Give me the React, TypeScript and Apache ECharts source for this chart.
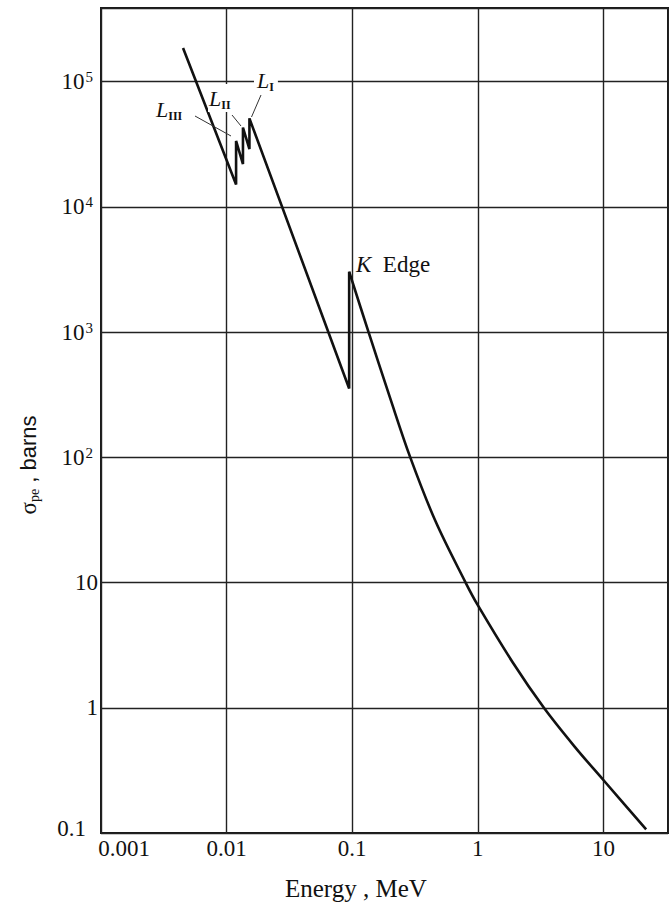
import React, { useEffect, useRef } from 'react';
import * as echarts from 'echarts';

// Photoelectric cross-section (lead)
// Low-energy part with the L edges and the K edge (straight segments)
const energyLow = [0.0045, 0.0119, 0.0119, 0.0135, 0.0135, 0.0152, 0.0152, 0.0946, 0.0946];
const sigmaLow = [186000, 15100, 33700, 22000, 43000, 29000, 51000, 355, 3040];
// Above the K edge (smooth curve)
const energyHigh = [0.0946, 0.135, 0.2, 0.29, 0.46, 0.8, 1.0, 1.9, 3.36, 5.9, 10, 21.9];
const sigmaHigh = [3040, 1000, 300, 100, 31, 10, 6.6, 2.3, 1, 0.49, 0.265, 0.107];

const xTickExps = [-3, -2, -1, 0, 1];
const xTickLabels = ['{first|0.001}', '0.01', '0.1', '1', '10'];
const yTickExps = [-1, 0, 1, 2, 3, 4, 5];
const yTickLabels = ['{lo|0.1}', '1', '10', '{b|10}{sup|2}', '{b|10}{sup|3}', '{b|10}{sup|4}', '{b|10}{sup|5}'];

const xMin = 0.001;
const xMax = 32.7;
const yMin = 0.1;
const yMax = 388000;

const serif = "'Liberation Serif', 'Times New Roman', serif";
const ink = '#111';

function labelFor(v: number, exps: number[], labels: string[]) {
  const l = Math.log10(v);
  const e = Math.round(l);
  if (Math.abs(l - e) > 1e-6) return '';
  const i = exps.indexOf(e);
  return i < 0 ? '' : labels[i];
}

export default function App() {
  const ref = useRef<HTMLDivElement>(null);
  useEffect(() => {
    const el = ref.current;
    if (!el) return;
    const chart = echarts.init(el, null, { renderer: 'svg' });
    const low = energyLow.map((e, i) => [e, sigmaLow[i]]);
    const high = energyHigh.map((e, i) => [e, sigmaHigh[i]]);
    const labelTxt = { fontFamily: serif, fill: ink };
    chart.setOption({
      animation: false,
      backgroundColor: '#fff',
      grid: {
        show: true,
        left: 101,
        right: 1,
        top: 8,
        bottom: 73,
        borderColor: '#1a1a1a',
        borderWidth: 2,
        backgroundColor: 'transparent',
      },
      xAxis: {
        type: 'log',
        logBase: 10,
        min: xMin,
        max: xMax,
        splitNumber: 5,
        axisLine: { show: false },
        axisTick: { show: false },
        minorTick: { show: false },
        splitLine: { show: true, lineStyle: { color: '#222', width: 1.4 } },
        axisLabel: {
          formatter: (v: number) => labelFor(v, xTickExps, xTickLabels),
          fontFamily: serif,
          fontSize: 23,
          lineHeight: 22,
          color: ink,
          margin: 4,
          showMaxLabel: false,
          rich: {
            first: { fontFamily: serif, fontSize: 23, lineHeight: 22, color: ink, padding: [0, 0, 0, 46] },
          },
        },
      },
      yAxis: {
        type: 'log',
        logBase: 10,
        min: yMin,
        max: yMax,
        splitNumber: 5,
        axisLine: { show: false },
        axisTick: { show: false },
        minorTick: { show: false },
        splitLine: { show: true, lineStyle: { color: '#222', width: 1.4 } },
        axisLabel: {
          formatter: (v: number) => labelFor(v, yTickExps, yTickLabels),
          fontFamily: serif,
          fontSize: 23,
          lineHeight: 24,
          color: ink,
          margin: 3,
          showMaxLabel: false,
          rich: {
            lo: { fontFamily: serif, fontSize: 23, lineHeight: 24, color: ink, padding: [0, 12, 10, 0] },
            b: { fontFamily: serif, fontSize: 23, lineHeight: 24, color: ink },
            sup: { fontFamily: serif, fontSize: 15, lineHeight: 14, verticalAlign: 'top', color: ink, padding: [0, 5, 0, 1] },
          },
        },
      },
      series: [
        {
          type: 'line',
          data: low,
          symbol: 'none',
          lineStyle: { color: ink, width: 2.6 },
          silent: true,
        },
        {
          type: 'line',
          data: high,
          symbol: 'none',
          smooth: 0.35,
          lineStyle: { color: ink, width: 2.6 },
          silent: true,
        },
      ],
      graphic: [
        { type: 'line', z: 10, shape: { x1: 195, y1: 116, x2: 231, y2: 136 }, style: { stroke: '#333', lineWidth: 1 } },
        { type: 'line', z: 10, shape: { x1: 232, y1: 115, x2: 241, y2: 126 }, style: { stroke: '#333', lineWidth: 1 } },
        { type: 'line', z: 10, shape: { x1: 261, y1: 95, x2: 251.5, y2: 117 }, style: { stroke: '#333', lineWidth: 1 } },
        {
          type: 'text', z: 10, x: 155, y: 109,
          style: {
            text: '{L|L}{s|III}', align: 'left', verticalAlign: 'middle', backgroundColor: '#fff', padding: [1, 3, 1, 1],
            rich: {
              L: { ...labelTxt, fontStyle: 'italic', fontSize: 22, lineHeight: 26 },
              s: { ...labelTxt, fontSize: 12, fontWeight: 'bold', lineHeight: 10, verticalAlign: 'bottom' },
            },
          },
        },
        {
          type: 'text', z: 10, x: 208, y: 98,
          style: {
            text: '{L|L}{s|II}', align: 'left', verticalAlign: 'middle', backgroundColor: '#fff', padding: [1, 3, 1, 1],
            rich: {
              L: { ...labelTxt, fontStyle: 'italic', fontSize: 22, lineHeight: 26 },
              s: { ...labelTxt, fontSize: 12, fontWeight: 'bold', lineHeight: 10, verticalAlign: 'bottom' },
            },
          },
        },
        {
          type: 'text', z: 10, x: 254, y: 80,
          style: {
            text: '{L|L}{s|I}', align: 'left', verticalAlign: 'middle', backgroundColor: '#fff', padding: [1, 4, 1, 3],
            rich: {
              L: { ...labelTxt, fontStyle: 'italic', fontSize: 22, lineHeight: 26 },
              s: { ...labelTxt, fontSize: 12, fontWeight: 'bold', lineHeight: 10, verticalAlign: 'bottom' },
            },
          },
        },
        {
          type: 'text', z: 10, x: 354, y: 264,
          style: {
            text: '{k|K}{e|  Edge}', align: 'left', verticalAlign: 'middle', backgroundColor: '#fff', padding: [1, 2],
            rich: {
              k: { ...labelTxt, fontStyle: 'italic', fontSize: 23, lineHeight: 26 },
              e: { ...labelTxt, fontSize: 23, lineHeight: 26 },
            },
          },
        },
        {
          type: 'text', z: 10, x: 285, y: 888,
          style: { text: 'Energy , MeV', fontFamily: serif, fontSize: 25, fill: ink, align: 'left', verticalAlign: 'middle' },
        },
        {
          type: 'text', z: 10, x: 28, y: 465, rotation: Math.PI / 2,
          style: {
            text: '{s|σ}{p|pe}{n| , barns}', align: 'center', verticalAlign: 'middle',
            rich: {
              s: { ...labelTxt, fontSize: 23, lineHeight: 26 },
              p: { ...labelTxt, fontSize: 14, lineHeight: 10, verticalAlign: 'bottom' },
              n: { fontFamily: "'Liberation Sans', Arial, sans-serif", fill: ink, fontSize: 22, lineHeight: 26 },
            },
          },
        },
      ],
    });
    return () => chart.dispose();
  }, []);
  return (
    <div
      ref={ref}
      style={{ position: 'fixed', left: 0, top: 0, width: 669, height: 906, background: '#fff' }}
    />
  );
}
